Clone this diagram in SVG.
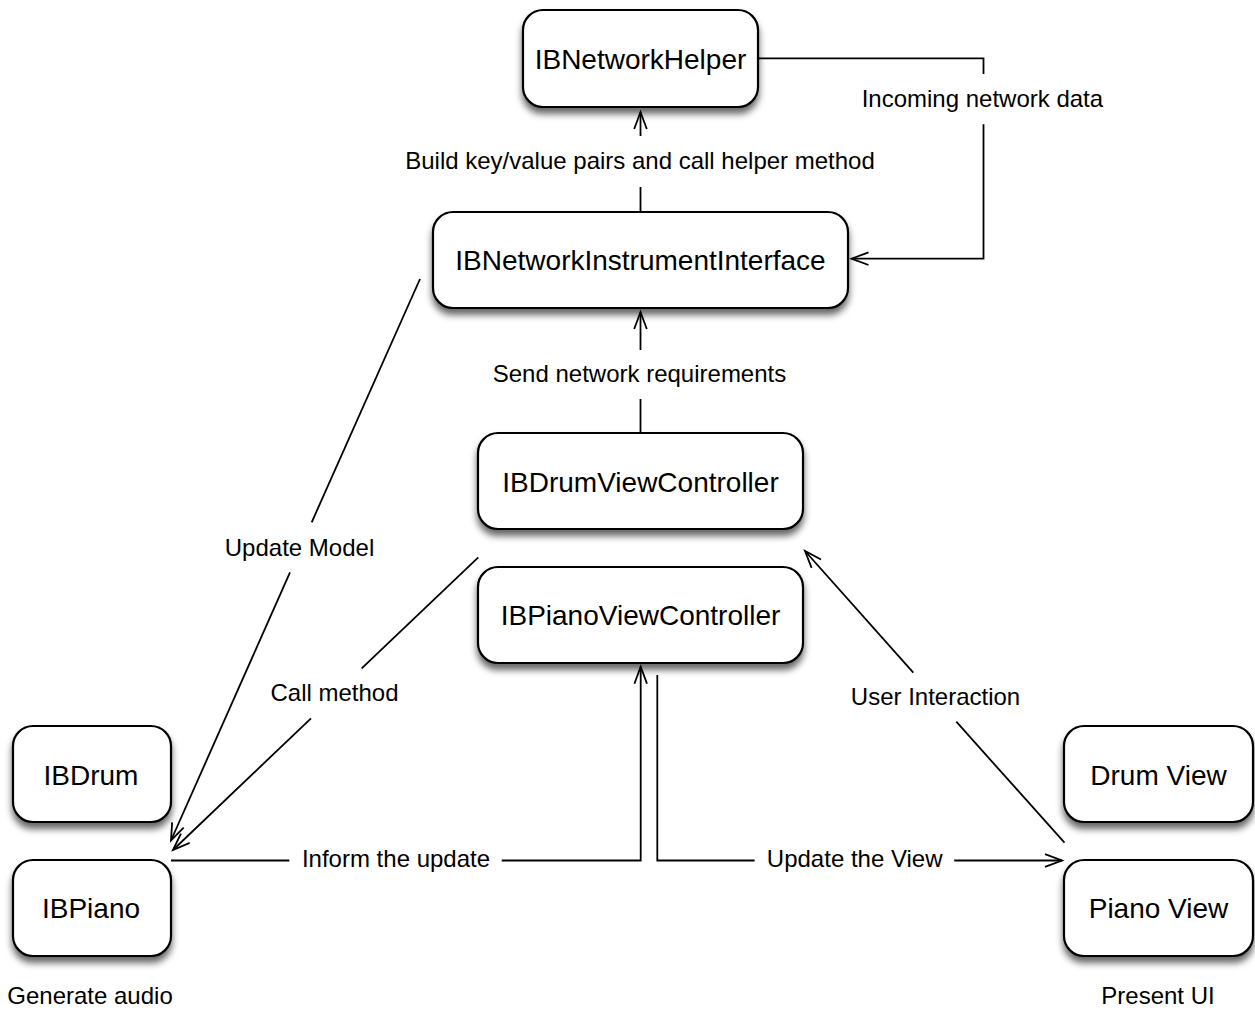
<svg xmlns="http://www.w3.org/2000/svg" width="1255" height="1012" viewBox="0 0 1255 1012">
<style>
.box{fill:#fff;stroke:#000;stroke-width:2.2;filter:url(#sh)}
.nt{font-family:"Liberation Sans",Arial,sans-serif;font-size:28px;fill:#000;text-anchor:middle}
.lt{font-family:"Liberation Sans",Arial,sans-serif;font-size:24px;fill:#000;text-anchor:middle}
.ln{fill:none;stroke:#000;stroke-width:1.8}
.ar{marker-end:url(#arr)}
</style>
<defs>
<filter id="sh" x="-20%" y="-20%" width="140%" height="150%">
<feDropShadow dx="0" dy="6" stdDeviation="3.5" flood-color="#000" flood-opacity="0.6"/>
</filter>
<marker id="arr" markerUnits="userSpaceOnUse" markerWidth="22" markerHeight="18" viewBox="-19 -9 22 18" refX="0" refY="0" orient="auto">
<path d="M-17,-6.3 L0,0 L-17,6.3" fill="none" stroke="#000" stroke-width="1.8"/>
</marker>
</defs>
<rect width="1255" height="1012" fill="#fff"/>
<g id="connectors">
<path class="ln" d="M640.5,212 V187"/>
<path class="ln ar" d="M640.5,136 V112"/>
<path class="ln" d="M640.5,433 V399"/>
<path class="ln ar" d="M640.5,350 V312"/>
<path class="ln" d="M758,58.3 H983.5 V74"/>
<path class="ln ar" d="M983.5,124.3 V258.7 H851.5"/>
<path class="ln" d="M420,279 L311.7,522.3"/>
<path class="ln ar" d="M290,572.3 L171,840.5"/>
<path class="ln" d="M478.3,557.3 L361.7,668.3"/>
<path class="ln ar" d="M311,718.3 L173,850"/>
<path class="ln" d="M1064.5,842.7 L956.3,721.7"/>
<path class="ln ar" d="M913.3,672.7 L805,551"/>
<path class="ln" d="M171,860.5 H289.3"/>
<path class="ln ar" d="M501.7,860.5 H640.7 V666.7"/>
<path class="ln" d="M657.3,675 V860.5 H754.6"/>
<path class="ln ar" d="M954.2,860.5 H1062"/>
<text class="lt" x="640" y="168.5">Build key/value pairs and call helper method</text>
<text class="lt" x="639.5" y="382">Send network requirements</text>
<text class="lt" x="982.4" y="106.7">Incoming network data</text>
<text class="lt" x="299.5" y="556">Update Model</text>
<text class="lt" x="334.5" y="700.7">Call method</text>
<text class="lt" x="935.5" y="705">User Interaction</text>
<text class="lt" x="396" y="867.3">Inform the update</text>
<text class="lt" x="854.7" y="867.3">Update the View</text>
</g>
<g id="IBNetworkHelper"><rect class="box" x="523" y="10" width="235" height="97" rx="20"/><text class="nt" x="640.5" y="68.5">IBNetworkHelper</text></g>
<g id="IBNetworkInstrumentInterface"><rect class="box" x="433" y="212" width="415" height="96" rx="20"/><text class="nt" x="640.5" y="269.5">IBNetworkInstrumentInterface</text></g>
<g id="IBDrumViewController"><rect class="box" x="478" y="433" width="325" height="96" rx="20"/><text class="nt" x="640.5" y="491.5">IBDrumViewController</text></g>
<g id="IBPianoViewController"><rect class="box" x="478" y="567" width="325" height="96" rx="20"/><text class="nt" x="640.5" y="625">IBPianoViewController</text></g>
<g id="IBDrum"><rect class="box" x="13" y="726" width="158" height="96" rx="20"/><text class="nt" x="91" y="784.5">IBDrum</text></g>
<g id="IBPiano"><rect class="box" x="13" y="860" width="158" height="96" rx="20"/><text class="nt" x="91" y="918">IBPiano</text></g>
<g id="DrumView"><rect class="box" x="1064" y="726" width="189" height="96" rx="20"/><text class="nt" x="1158.5" y="784.5">Drum View</text></g>
<g id="PianoView"><rect class="box" x="1064" y="860" width="189" height="96" rx="20"/><text class="nt" x="1158.5" y="918">Piano View</text></g>
<g id="captions">
<text class="lt" x="90" y="1003.5">Generate audio</text>
<text class="lt" x="1158" y="1004">Present UI</text>
</g>
</svg>
